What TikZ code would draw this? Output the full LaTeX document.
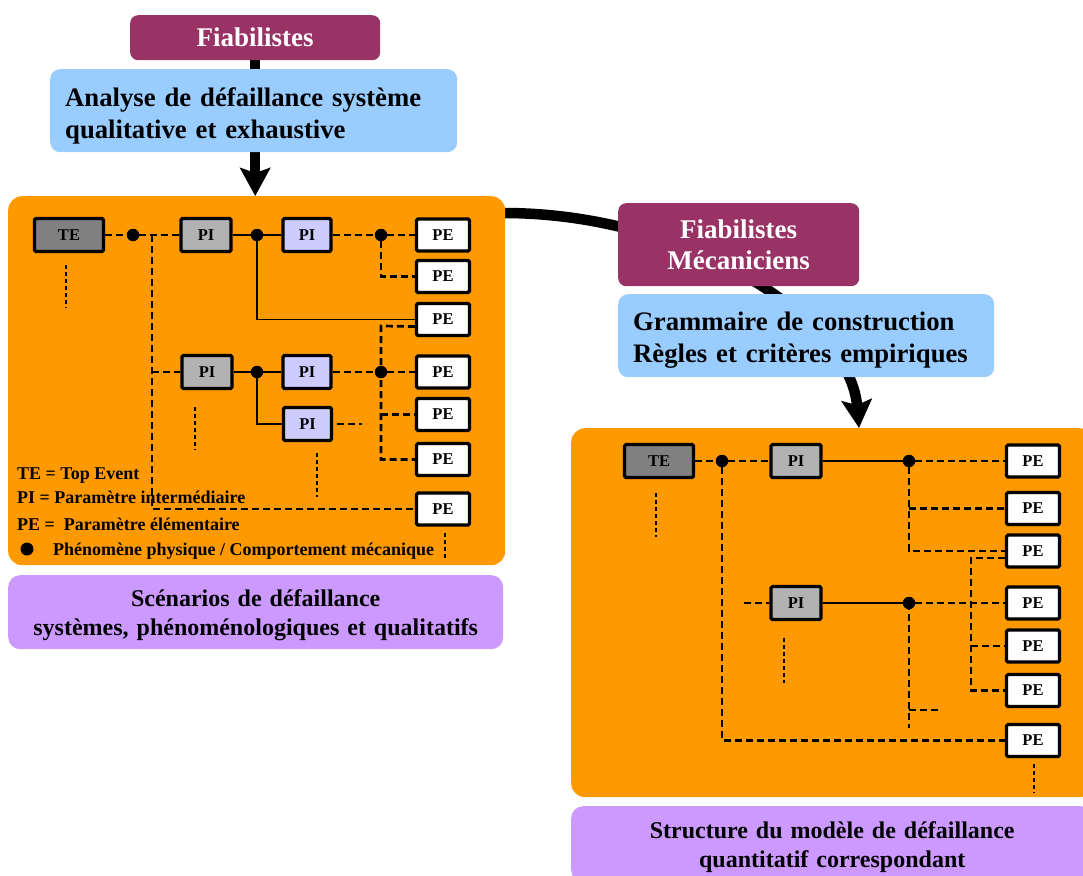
\documentclass[tikz,border=0pt]{standalone}
\usepackage{fontspec}
\setmainfont{Liberation Serif}
\usetikzlibrary{arrows.meta}
\definecolor{maroonC}{HTML}{993366}
\definecolor{blueC}{HTML}{99CCFF}
\definecolor{orangeC}{HTML}{FF9900}
\definecolor{purpleC}{HTML}{CC99FF}
\definecolor{teGray}{HTML}{808080}
\definecolor{piGray}{HTML}{B2B2B2}
\definecolor{piLav}{HTML}{CCCCFF}
\pgfdeclarelayer{bg}
\pgfsetlayers{bg,main}
\newcommand{\mylines}[3]{\raisebox{#1}[\height][\depth]{\begin{tabular}{@{}#2@{}}#3\end{tabular}}}
\begin{document}
\begin{tikzpicture}[x=1pt,y=-1pt,
  panel/.style={anchor=north west, inner sep=0pt, rounded corners=14pt, fill=orangeC},
  titlebox/.style={anchor=north west, inner sep=0pt, rounded corners=8pt, fill=maroonC, text=white, align=center, font=\fontsize{27}{31}\selectfont\bfseries},
  bluebox/.style={anchor=north west, inner ysep=0pt, inner xsep=15pt, rounded corners=10pt, fill=blueC, align=left, font=\fontsize{26.7}{32}\selectfont\bfseries},
  purplebox/.style={anchor=north west, inner sep=0pt, rounded corners=12pt, fill=purpleC, align=center, font=\fontsize{24}{29}\selectfont\bfseries},
  elem/.style={draw=black, line width=3.2pt, rounded corners=1.5pt, minimum height=33pt, inner sep=0pt, font=\fontsize{16.5}{20}\selectfont\bfseries},
  tebox/.style={elem, fill=teGray, minimum width=69pt},
  pig/.style={elem, fill=piGray, minimum width=50pt},
  pil/.style={elem, fill=piLav, minimum width=48pt},
  pebox/.style={elem, fill=white, minimum width=53pt, minimum height=32pt},
  dot/.style={circle, fill=black, inner sep=0pt, minimum size=12.5pt},
  dline/.style={line width=2.7pt, dash pattern=on 7pt off 4pt},
  sline/.style={line width=1.5pt},
  vline/.style={line width=2.4pt, dash pattern=on 4pt off 3pt},
  bigarrow/.style={line width=10.5pt, -{Stealth[length=28pt,width=30pt,inset=5pt]}},
  legtext/.style={anchor=base west, inner sep=0pt, font=\fontsize{18}{20}\selectfont\bfseries}
]
\useasboundingbox (0,0) rectangle (1083,875);

% ---------- big boxes ----------
\node[titlebox, minimum width=250pt, minimum height=45pt] (fiab1) at (130,15) {Fiabilistes};
\node[bluebox, minimum width=407pt, minimum height=83pt, text width=377pt] (blue1) at (50,69) {\mylines{-5pt}{l}{Analyse de défaillance système\\qualitative et exhaustive}};
\node[panel, minimum width=497pt, minimum height=369pt] (orange1) at (8,196) {};
\node[purplebox, minimum width=495pt, minimum height=74pt, text width=495pt] (purple1) at (8,575) {\mylines{-3pt}{c}{Scénarios de défaillance\\systèmes, phénoménologiques et qualitatifs}};

\node[titlebox, minimum width=241pt, minimum height=83pt, text width=241pt] (fiab2) at (618,203) {\mylines{-3pt}{c}{Fiabilistes\\Mécaniciens}};
\node[bluebox, minimum width=376pt, minimum height=83pt, text width=346pt] (blue2) at (618,294) {\mylines{-4.5pt}{l}{Grammaire de construction\\Règles et critères empiriques}};
\node[panel, minimum width=522pt, minimum height=369pt] (orange2) at (571,428) {};
\node[purplebox, minimum width=522pt, minimum height=76pt, text width=522pt] (purple2) at (571,806) {\mylines{-2.5pt}{c}{Structure du modèle de défaillance\\quantitatif correspondant}};

% ---------- thick arrows (behind) ----------
\begin{pgfonlayer}{bg}
\draw[bigarrow] (fiab1.center) -- (fiab1.center |- orange1.north);
\draw[bigarrow] ([xshift=-5pt]orange1.east |- 0,213) .. controls (690,212) and (850,320) .. (859,0 |- orange2.north);
\end{pgfonlayer}

% ---------- panel 1 ----------
\node[tebox] (TE1) at (69,235) {TE};
\node[pig] (PIa) at (206,235) {PI};
\node[pil] (PIb) at (307,235) {PI};
\node[pig] (PIc) at (207,372) {PI};
\node[pil] (PId) at (307,372) {PI};
\node[pil] (PIe) at (307.5,424) {PI};
\node[pebox] (PEa) at (443,235) {PE};
\node[pebox] (PEb) at (443,276.5) {PE};
\node[pebox] (PEc) at (443,319.5) {PE};
\node[pebox] (PEd) at (443,372) {PE};
\node[pebox] (PEe) at (443,414.5) {PE};
\node[pebox] (PEf) at (443,459.5) {PE};
\node[pebox] (PEg) at (443,509) {PE};
\node[dot] (d1) at (133,235) {};
\node[dot] (d2) at (257,235) {};
\node[dot] (d3) at (381,235) {};
\node[dot] (d4) at (257,372) {};
\node[dot] (d5) at (381,372) {};
\coordinate (j1) at (152,235);
\coordinate (j2) at (381,326);

\node[legtext] (lg1) at (17,479) {TE = Top Event};
\node[legtext] (lg2) at (17,503) {PI = Paramètre intermédiaire};
\node[legtext] (lg3) at (17,530) {PE =\ \ Paramètre élémentaire};
\node[dot, minimum size=13pt] (lgdot) at (27,549) {};
\node[legtext] (lg4) at (53,555) {Phénomène physique / Comportement mécanique};

\draw[dline] (TE1) -- (d1) -- (PIa);
\draw[dline] (j1) |- (PEg);
\draw[dline] (j1 |- PIc) -- (PIc);
\draw[sline] (PIa) -- (d2) -- (PIb);
\draw[sline] (d2) |- (PEc);
\draw[dline] (PIb) -- (d3) -- (PEa);
\draw[dline] (d3) |- (PEb);
\draw[dline] ([yshift=-7pt]PEc.west) -- (j2) |- (PEf);
\draw[dline] (d5) -- (PEd);
\draw[dline] (j2 |- PEe) -- (PEe);
\draw[sline] (PIc) -- (d4) -- (PId);
\draw[sline] (d4) |- (PIe);
\draw[dline] (PId) -- (d5);
\draw[dline] ([xshift=4pt]PIe.east) -- ([xshift=29pt]PIe.east);
\draw[vline] ([xshift=-3pt,yshift=-12pt]TE1.south) -- ++(0,43);
\draw[vline] ([xshift=-12pt,yshift=-17pt]PIc.south) -- ++(0,43);
\draw[vline] ([xshift=9.5pt,yshift=-11pt]PIe.south) -- ++(0,44);
\draw[vline] ([xshift=2pt,yshift=-6pt]PEg.south) -- ++(0,27);

% ---------- panel 2 ----------
\node[tebox] (TE2) at (659,461) {TE};
\node[pig] (PIf) at (796,461) {PI};
\node[pig] (PIg) at (796,603) {PI};
\node[pebox] (QEa) at (1033,461) {PE};
\node[pebox] (QEb) at (1033,508.5) {PE};
\node[pebox] (QEc) at (1033,551) {PE};
\node[pebox] (QEd) at (1033,603) {PE};
\node[pebox] (QEe) at (1033,646) {PE};
\node[pebox] (QEf) at (1033,690.5) {PE};
\node[pebox] (QEg) at (1033,740.5) {PE};
\node[dot] (dA) at (722,461) {};
\node[dot] (dB) at (909,461) {};
\node[dot] (dC) at (909,603) {};
\coordinate (j3) at (971,558);
\coordinate (j4) at (909,710);

\draw[dline] (TE2) -- (dA) -- (PIf);
\draw[dline] (dA) |- (QEg);
\draw[sline] (PIf) -- (dB);
\draw[dline] (dB) -- (QEa);
\draw[dline] (dB) |- (QEc);
\draw[dline] (dB |- QEb) -- (QEb);
\draw[dline] ([yshift=-7pt]QEc.west) -- (j3) |- (QEf);
\draw[dline] (j3 |- QEe) -- (QEe);
\draw[dline] ([xshift=-25pt]PIg.west) -- (PIg);
\draw[sline] (PIg) -- (dC);
\draw[dline] (dC) -- (QEd);
\draw[dline] (dC.center) -- ++(0,125);
\draw[dline] (j4) -- ++(32,0);
\draw[vline] ([xshift=-3pt,yshift=-14pt]TE2.south) -- ++(0,44);
\draw[vline] ([xshift=-12pt,yshift=-16.5pt]PIg.south) -- ++(0,45);
\draw[vline] ([xshift=1pt,yshift=-5.5pt]QEg.south) -- ++(0,29);
\end{tikzpicture}
\end{document}
